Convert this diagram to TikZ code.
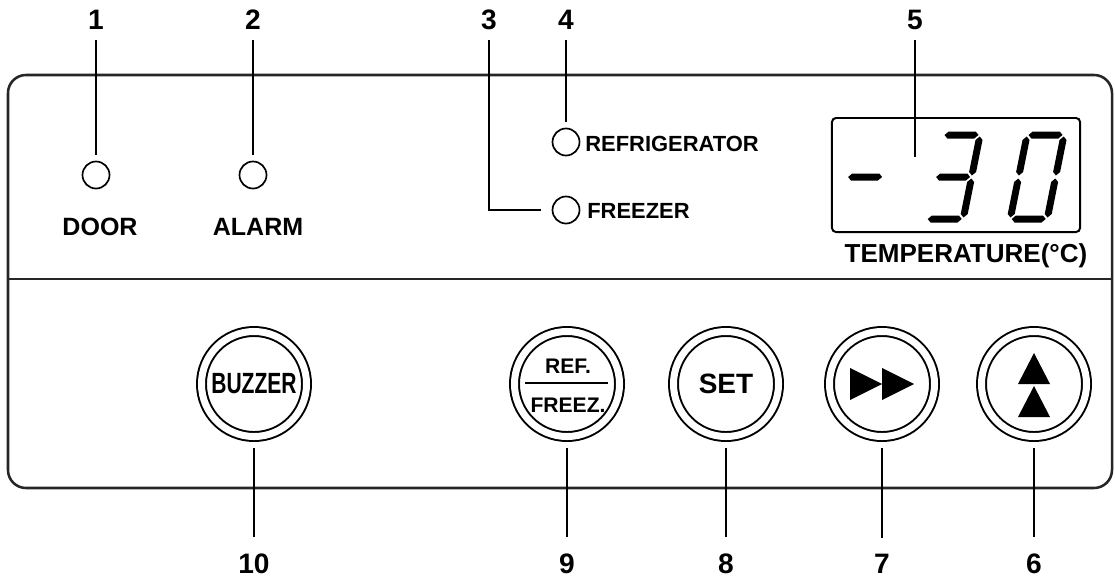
\documentclass[tikz,border=0pt]{standalone}
\usepackage{fontspec}
\setmainfont{Liberation Sans}
\newfontfamily\narrowfont[FakeStretch=0.72]{Liberation Sans}
\usetikzlibrary{calc}

% seven-segment pieces (local units, 44 x 91)
\newcommand{\segh}[1]{\fill (5,#1) -- ++(3.5,3.5) -- ++(27,0) -- ++(3.5,-3.5) -- ++(-3.5,-3.5) -- ++(-27,0) -- cycle;}
\newcommand{\segv}[2]{\fill (#1,#2) -- ++(3.5,3.5) -- ++(0,32) -- ++(-3.5,3.5) -- ++(-3.5,-3.5) -- ++(0,-32) -- cycle;}

\begin{document}
\begin{tikzpicture}[
  x=0.025cm, y=-0.025cm,
  panel/.style={
    draw=black!85,
    line width=1.8pt,
    rounded corners=0.45cm
  },
  lead/.style={
    line width=1.1pt,
    shorten <=0.25cm,
    shorten >=0.16cm
  },
  leaddown/.style={
    line width=1.1pt,
    shorten <=0.29cm,
    shorten >=0.4cm
  },
  led/.style={
    circle,
    draw,
    line width=1.2pt,
    minimum size=0.675cm,
    inner sep=0pt,
    outer sep=0pt
  },
  button/.style={
    circle,
    draw,
    line width=1.4pt,
    double,
    double distance=0.175cm,
    minimum size=2.625cm,
    inner sep=0pt,
    outer sep=0pt
  },
  screen/.style={
    rectangle,
    draw,
    line width=1.4pt,
    rounded corners=0.1cm,
    minimum width=6.2cm,
    minimum height=2.85cm,
    inner sep=0pt,
    outer sep=0pt
  },
  num/.style={
    font=\fontsize{20}{22}\selectfont\bfseries,
    inner sep=0pt,
    outer sep=0pt,
    anchor=base
  },
  lamptext/.style={
    font=\fontsize{17.8}{20}\selectfont\bfseries,
    inner sep=0pt
  },
  smalltext/.style={
    font=\fontsize{15.6}{18}\selectfont\bfseries,
    inner sep=0pt
  },
  btntext/.style={
    font=\fontsize{15}{17}\selectfont\bfseries,
    inner sep=0pt,
    anchor=base
  }
]
\useasboundingbox (0,0) rectangle (1115,578);

% =========================================================
% Front panel
% =========================================================
\draw[panel] (8,75) rectangle (1112,488);
\draw[draw=black!85, line width=1.8pt] (8,279) -- (1112,279);

% =========================================================
% Upper half: lamps and display
% =========================================================
\node[led] (door)  at (96,175) {};
\node[led] (alarm) at (253,175) {};
\node[led] (refr)  at (566,142) {};
\node[led] (frz)   at (566,210) {};

\node[lamptext, anchor=base] (doortxt)  at (100,235) {DOOR};
\node[lamptext, anchor=base] (alarmtxt) at (258,235) {ALARM};
\node[smalltext, anchor=base west] (refrtxt) at (585,151) {REFRIGERATOR};
\node[smalltext, anchor=base west] (frztxt)  at (587,218) {FREEZER};

\node[screen] (disp) at (956,175) {};
\node[lamptext, font=\fontsize{18.5}{20}\selectfont\bfseries, anchor=base] (temptxt) at (966,262) {TEMPERATURE(°C)};

% digits  - 3 0
\begin{scope}[shift={(834,222.5)}, x=0.025cm, y=0.025cm, xslant=0.2]
  \segh{45.5}
\end{scope}
\begin{scope}[shift={(922,222.5)}, x=0.025cm, y=0.025cm, xslant=0.2]
  \segh{87.5} \segv{40.5}{47} \segh{45.5} \segv{40.5}{5} \segh{3.5}
\end{scope}
\begin{scope}[shift={(1006,222.5)}, x=0.025cm, y=0.025cm, xslant=0.2]
  \segh{87.5} \segv{3.5}{47} \segv{40.5}{47} \segv{3.5}{5} \segv{40.5}{5} \segh{3.5}
\end{scope}

% =========================================================
% Lower half: keys
% =========================================================
\node[button, font=\fontsize{20.8}{22}\narrowfont\bfseries] (buzz) at (254,384) {BUZZER};
\node[button] (rf)  at (567,384) {};
\node[button, font=\fontsize{19.9}{22}\selectfont\bfseries] (set) at (726,384) {SET};
\node[button] (ff)  at (882,384) {};
\node[button] (up)  at (1034,384) {};

\node[btntext] (reftxt) at (568,373) {REF.};
\node[btntext] (frzkey) at (568,412) {FREEZ.};
\draw[line width=1.2pt] ($(rf)+(-42,-1)$) -- ($(rf)+(41,-1)$);

\fill ($(ff)+(-32,-16)$) -- ($(ff)+(0,0)$) -- ($(ff)+(-32,16)$) -- cycle;
\fill ($(ff)+(0,-16)$) -- ($(ff)+(32,0)$) -- ($(ff)+(0,16)$) -- cycle;

\fill ($(up)+(0,-31)$) -- ($(up)+(16,0)$) -- ($(up)+(-16,0)$) -- cycle;
\fill ($(up)+(0,2)$) -- ($(up)+(16,33)$) -- ($(up)+(-16,33)$) -- cycle;

% =========================================================
% Reference numbers
% =========================================================
\node[num] (n1) at (96,30) {1};
\node[num] (n2) at (253,30) {2};
\node[num] (n3) at (489,30) {3};
\node[num] (n4) at (566,30) {4};
\node[num] (n5) at (915,30) {5};
\coordinate (c5) at (915,157);

\node[num] (n10) at (254,573) {10};
\node[num] (n9)  at (567,573) {9};
\node[num] (n8)  at (726,573) {8};
\node[num] (n7)  at (882,573) {7};
\node[num] (n6)  at (1034,573) {6};

\draw[lead] (n1) -- (door);
\draw[lead] (n2) -- (alarm);
\draw[lead, shorten >=0.29cm] (n3) -- (n3 |- frz) -- (frz);
\draw[lead] (n4) -- (refr);
\draw[lead, shorten >=0pt] (n5) -- (c5);

\draw[leaddown] (buzz) -- (n10);
\draw[leaddown] (rf) -- (n9);
\draw[leaddown] (set) -- (n8);
\draw[leaddown] (ff) -- (n7);
\draw[leaddown] (up) -- (n6);

\end{tikzpicture}
\end{document}
